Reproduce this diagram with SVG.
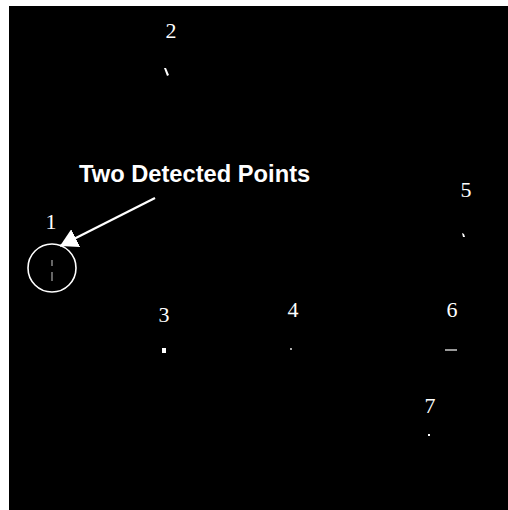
<svg xmlns="http://www.w3.org/2000/svg" width="508" height="510" viewBox="0 0 508 510">
<style>
.num{font-family:"Liberation Serif",serif;font-size:22px;fill:#fff;text-anchor:middle}
.lbl{font-family:"Liberation Sans",Arial,sans-serif;font-size:23.7px;font-weight:bold;fill:#fff}
.pt{fill:#fff}
</style>
<defs>
<marker id="ah" viewBox="0 0 10 10" refX="10" refY="5" markerWidth="8" markerHeight="9" markerUnits="strokeWidth" orient="auto" preserveAspectRatio="none">
<path d="M0,0 L10,5 L0,10 z" fill="#fff"/>
</marker>
</defs>
<rect x="0" y="0" width="508" height="510" fill="#fff"/>
<rect x="9" y="6" width="499" height="504" fill="#000"/>
<g id="p1">
<text class="num" x="51" y="229">1</text>
<circle cx="52" cy="268" r="24" fill="none" stroke="#fff" stroke-width="1.6"/>
<line x1="52" y1="260" x2="52" y2="266" stroke="#aaa" stroke-width="1.2"/>
<line x1="52" y1="272" x2="52" y2="281" stroke="#aaa" stroke-width="1.2"/>
</g>
<g id="p2">
<text class="num" x="171" y="38">2</text>
<path class="pt" d="M164,68 L166,68 L169,75 L167,76 Z"/>
</g>
<g id="p3">
<text class="num" x="164" y="322">3</text>
<rect class="pt" x="162" y="348" width="4" height="5"/>
</g>
<g id="p4">
<text class="num" x="293" y="317">4</text>
<circle class="pt" cx="291" cy="349" r="0.9"/>
</g>
<g id="p5">
<text class="num" x="466" y="197">5</text>
<path class="pt" d="M462,233 L464,234 L465,237 L463,237 Z"/>
</g>
<g id="p6">
<text class="num" x="452" y="317">6</text>
<line x1="445" y1="350" x2="457" y2="350" stroke="#fff" stroke-width="1.2"/>
</g>
<g id="p7">
<text class="num" x="430" y="413">7</text>
<rect class="pt" x="428" y="434" width="2" height="2"/>
</g>
<g id="label">
<text class="lbl" x="79" y="182">Two Detected Points</text>
</g>
<g id="connectors">
<line x1="155" y1="198" x2="60" y2="246" stroke="#fff" stroke-width="2.2" marker-end="url(#ah)"/>
</g>
</svg>
